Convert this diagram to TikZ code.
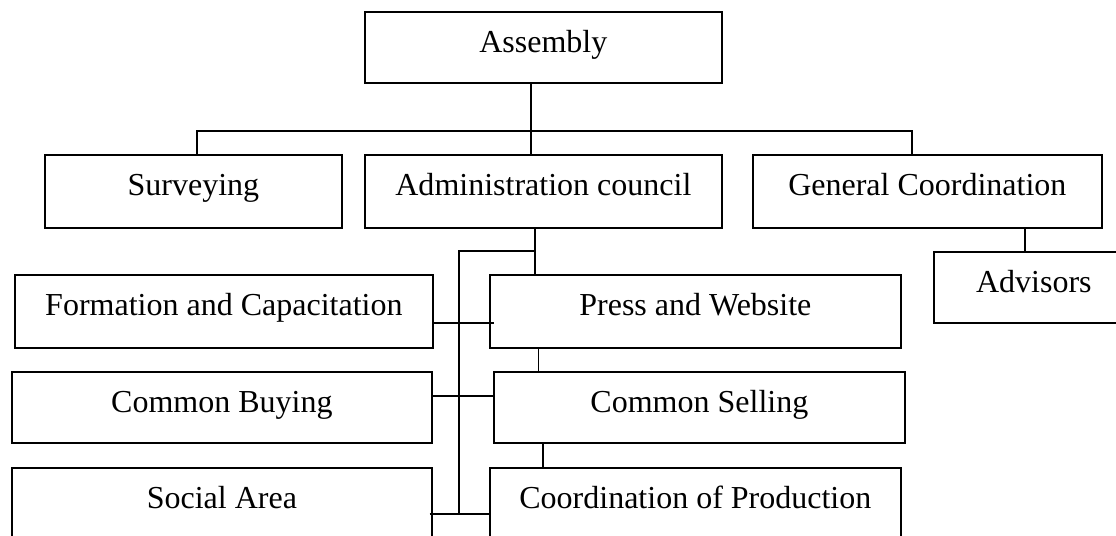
\documentclass[tikz,border=0pt]{standalone}
\usepackage{fontspec}
\setmainfont{Liberation Serif}
\tikzset{
  orgbox/.style={draw,line width=1.3pt,inner sep=0pt,anchor=north west,
    text height=30.75pt,text depth=24pt,font=\fontsize{24pt}{28pt}\selectfont},
  orglink/.style={line width=1.1pt}
}
\begin{document}
\begin{tikzpicture}[x=0.75pt,y=-0.75pt]
\path[use as bounding box] (0,0) rectangle (1116,535);
% top levels
\node[orgbox,minimum width=267.75pt,text depth=22.5pt] (asm) at (364,11) {Assembly};
\node[orgbox,minimum width=222.75pt] (surv) at (44,154) {Surveying};
\node[orgbox,minimum width=267.75pt] (admin) at (364,154) {Administration council};
\node[orgbox,minimum width=261.75pt] (gen) at (752,154) {General Coordination};
\node[orgbox,minimum width=150pt,text depth=22.5pt] (adv) at (933,251) {Advisors};
% departments
\node[orgbox,minimum width=313.5pt] (form) at (14,274) {Formation and Capacitation};
\node[orgbox,minimum width=308.25pt] (press) at (489,274) {Press and Website};
\node[orgbox,minimum width=315pt,text depth=22.5pt] (buy) at (11,371) {Common Buying};
\node[orgbox,minimum width=308.25pt,text depth=22.5pt] (sell) at (493,371) {Common Selling};
\node[orgbox,minimum width=315pt,text depth=29.25pt] (social) at (11,467) {Social Area};
\node[orgbox,minimum width=308.25pt,text depth=29.25pt] (prod) at (489,467) {Coordination of Production};
% bends
\coordinate (bus) at (531,131);
\coordinate (split) at (535,251);
\coordinate (spine) at (459,514);
% links
\draw[orglink] (asm.south -| bus) -- (admin.north -| bus);
\draw[orglink] ([xshift=2.6pt]surv.north) |- (bus) -| ([xshift=-11.6pt]gen.north);
\draw[orglink] ([xshift=204.75pt]gen.south west) -- ([xshift=69pt]adv.north west);
\draw[orglink] (admin.south -| split) -- (press.north -| split);
\draw[orglink] (split) -| (spine);
\draw[orglink] ([yshift=-8.6pt]form.east) -- ([xshift=3.5pt,yshift=-8.6pt]press.west);
\draw[orglink] ([yshift=8.6pt]buy.east) -- ([yshift=8.6pt]sell.west);
\draw[orglink] ([xshift=-2.25pt]social.east |- spine) -- (prod.west |- spine);
\draw[orglink] ([xshift=37.2pt]press.south west) -- ([xshift=34.2pt]sell.north west);
\draw[orglink] ([xshift=37.5pt]sell.south west) -- ([xshift=40.5pt]prod.north west);
\end{tikzpicture}
\end{document}
